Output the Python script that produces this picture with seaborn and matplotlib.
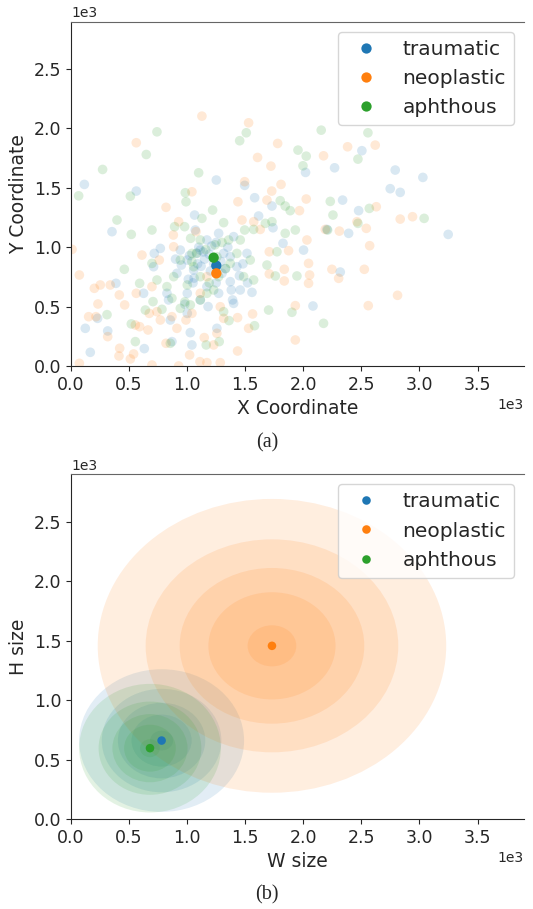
import numpy as np
import pandas as pd
import matplotlib
matplotlib.use("Agg")
import matplotlib.pyplot as plt
from matplotlib.patches import Ellipse
import seaborn as sns

# ---- data ----
classes = ["traumatic", "neoplastic", "aphthous"]

traumatic_x = [115, 562, 353, 166, 123, 229, 316, 387, 717, 1064, 1070, 1251, 1495, 1581, 1615,
               1730, 1739, 1825, 2002, 2019, 2083, 2203, 2269, 2318, 2338, 2390, 2476, 2504, 2748,
               2791, 2834, 3029, 3247, 1027, 1041, 631, 869, 1256, 1558, 1391, 769, 826, 941, 1001,
               1084, 1170, 1271, 1400, 1170, 1113, 1001, 1371, 1428, 1515, 1457, 912, 711, 625, 855,
               1056, 1228, 1314, 1113, 1371, 840, 1001, 1271, 1400, 1150, 1200, 1050, 950, 1300,
               1350, 1100, 1250, 980, 1180, 1450, 1520, 1020, 1090, 1140, 1210, 1290, 1330,
               1060, 1190, 1250, 1120, 1380, 1480, 900, 1010]
traumatic_y = [1529, 1473, 1131, 115, 317, 401, 295, 696, 948, 1271, 1145, 1566, 1521, 1417, 1263,
               1347, 1164, 1033, 976, 1630, 505, 1150, 1669, 791, 1397, 1117, 1308, 1813, 1493,
               1650, 1462, 1588, 1108, 281, 177, 146, 205, 317, 620, 556, 990, 612, 976, 892,
               948, 1061, 1117, 1089, 668, 556, 443, 710, 836, 948, 640, 780, 836, 612, 387,
               808, 864, 948, 976, 920, 556, 612, 612, 527, 900, 800, 700, 850, 780,
               1000, 1000, 700, 520, 500, 760, 700, 930, 860, 960, 1010, 880, 820,
               740, 940, 1040, 840, 640, 860, 900, 730]

neoplastic_x = [1127, 1529, 562, 1779, 1606, 1721, 1495, 1808, 1728, 1687, 1437, 1041, 818, 2025,
                2174, 2381, 2619, 2628, 2940, 2834, 2542, 2571, 2462, 2310, 2189, 1967, 2031, 2045,
                2054, 2045, 1836, 1836, 1873, 1707, 2246, 2304, 2525, 2811, 2559, 1931, 1931, 1434,
                1434, 1563, 1529, 1147, 1285, 1170, 927, 697, 72, 9, 72, 201, 252, 338, 232, 152,
                215, 316, 416, 462, 419, 413, 511, 539, 554, 591, 562, 611, 674, 663, 760, 818,
                912, 881, 884, 927, 1076, 1285, 1314, 1256, 1472, 1573, 1629, 1707, 990, 1041,
                1170, 1113, 740, 769, 697, 1021, 1110, 1228, 869]
neoplastic_y = [2104, 2048, 1880, 1874, 1756, 1683, 1552, 1529, 1473, 1397, 1383, 1467, 1336, 1406,
                1770, 1846, 1860, 1341, 1257, 1237, 1159, 1013, 1215, 1136, 1150, 1308, 1061, 864,
                766, 696, 814, 716, 971, 775, 814, 738, 814, 595, 508, 508, 219, 407,
                126, 438, 317, 239, 28, 28, 0, 8, 22, 982, 766, 654, 682, 682, 522, 415,
                415, 247, 598, 514, 149, 84, 59, 101, 345, 331, 612, 934, 443, 303, 892, 191,
                317, 1103, 1004, 1215, 1131, 499, 401, 275, 1229, 1215, 1150, 962, 387, 443,
                752, 612, 457, 387, 668, 93, 36, 177, 415]

aphthous_x = [740, 1509, 1452, 2154, 2556, 648, 272, 1099, 66, 511, 984, 990, 396, 697, 519, 1219,
              1127, 1314, 892, 978, 1030, 1113, 1495, 1572, 1673, 1730, 1801, 1844, 1887, 1931,
              1844, 1773, 1687, 1759, 1954, 2025, 1997, 2232, 2255, 2209, 2470, 2470, 2568, 3040,
              1945, 1902, 2174, 1701, 1580, 1360, 1276, 1164, 855, 554, 519, 310, 459, 591, 640,
              706, 783, 697, 869, 941, 1027, 1113, 1170, 1228, 1314, 1271, 1371, 1428, 1486, 1572,
              1041, 1056, 1113, 884, 826, 941, 740, 1256, 1357, 1457, 1543, 1001, 1080, 1160,
              1240, 1330, 1040, 980, 1190, 1300]
aphthous_y = [1972, 1964, 1897, 1986, 1964, 1781, 1655, 1627, 1433, 1430, 1459, 1383, 1229, 1145,
              1108, 1313, 1243, 1207, 1173, 1173, 1075, 1061, 1145, 1150, 1201, 1215, 1392, 1347,
              1308, 1145, 1117, 962, 850, 758, 1818, 1767, 1686, 1386, 1271, 1145, 1201, 1742,
              1327, 1243, 758, 452, 359, 471, 339, 382, 205, 177, 191, 205, 354, 432, 814, 696,
              471, 542, 477, 864, 570, 485, 514, 556, 612, 640, 457, 752, 864, 948, 752, 724,
              948, 836, 752, 752, 668, 892, 724, 920, 1061, 1061, 892, 682, 950, 980,
              1020, 820, 880, 540, 700, 1040]

# class means of the coordinates (panel a)
coord_mean_x = [1251, 1251, 1228]
coord_mean_y = [845, 780, 912]

# size distribution: means and outer ellipse half-axes (panel b)
size_mean_w = [780, 1730, 680]
size_mean_h = [660, 1457, 596]
size_half_w = [710, 1500, 610]
size_half_h = [600, 1236, 541]
ring_scale = [0.14, 0.365, 0.53, 0.725, 1.0]

palette = dict(zip(classes, sns.color_palette("tab10", 3)))

pts = pd.DataFrame({
    "x": traumatic_x + neoplastic_x + aphthous_x,
    "y": traumatic_y + neoplastic_y + aphthous_y,
    "cls": (["traumatic"] * len(traumatic_x) + ["neoplastic"] * len(neoplastic_x)
            + ["aphthous"] * len(aphthous_x)),
})
means_a = pd.DataFrame({"x": coord_mean_x, "y": coord_mean_y, "cls": classes})
means_b = pd.DataFrame({"x": size_mean_w, "y": size_mean_h, "cls": classes})

sns.set_style("ticks")
plt.rcParams["font.family"] = ["DejaVu Sans"]

fig = plt.figure(figsize=(5.33, 9.09), dpi=100)
ax1 = fig.add_axes([0.1332, 0.5974, 0.850, 0.3788])
ax2 = fig.add_axes([0.1332, 0.0990, 0.850, 0.3792])

# (a) coordinates
sns.scatterplot(data=pts, x="x", y="y", hue="cls", hue_order=classes, palette=palette,
                alpha=0.17, s=48, linewidth=0, legend=False, ax=ax1)
sns.scatterplot(data=means_a, x="x", y="y", hue="cls", hue_order=classes, palette=palette,
                s=55, linewidth=0, ax=ax1)
ax1.set_xlabel("X Coordinate", fontsize=13.5)
ax1.set_ylabel("Y Coordinate", fontsize=13.5)

# (b) sizes, concentric gaussian ellipses
for i, c in enumerate(classes):
    for r in ring_scale:
        e = Ellipse((size_mean_w[i], size_mean_h[i]), 2 * size_half_w[i] * r,
                    2 * size_half_h[i] * r, facecolor=palette[c], edgecolor="none",
                    alpha=0.13, zorder=1)
        ax2.add_patch(e)
sns.scatterplot(data=means_b, x="x", y="y", hue="cls", hue_order=classes, palette=palette,
                s=38, linewidth=0, ax=ax2, zorder=3)
ax2.set_xlabel("W size", fontsize=13.5)
ax2.set_ylabel("H size", fontsize=13.5)

for ax in (ax1, ax2):
    ax.set_xlim(0, 3900)
    ax.set_ylim(0, 2900)
    ax.set_xticks(np.arange(0, 3600, 500))
    ax.set_yticks(np.arange(0, 2600, 500))
    ax.ticklabel_format(style="sci", axis="both", scilimits=(0, 0))
    ax.tick_params(labelsize=12.5)
    ax.xaxis.get_offset_text().set_fontsize(10)
    ax.yaxis.get_offset_text().set_fontsize(10)
    ax.spines["right"].set_visible(False)
    ax.spines["top"].set_color("0.4")
    ax.legend(loc="upper right", fontsize=14.5, markerscale=1.0, title=None)

fig.text(0.501, 0.5127, "(a)", ha="center", va="center", fontsize=14.5,
         family=["Liberation Serif", "DejaVu Serif"])
fig.text(0.501, 0.0154, "(b)", ha="center", va="center", fontsize=14.5,
         family=["Liberation Serif", "DejaVu Serif"])

fig.savefig("out.png", dpi=100)
